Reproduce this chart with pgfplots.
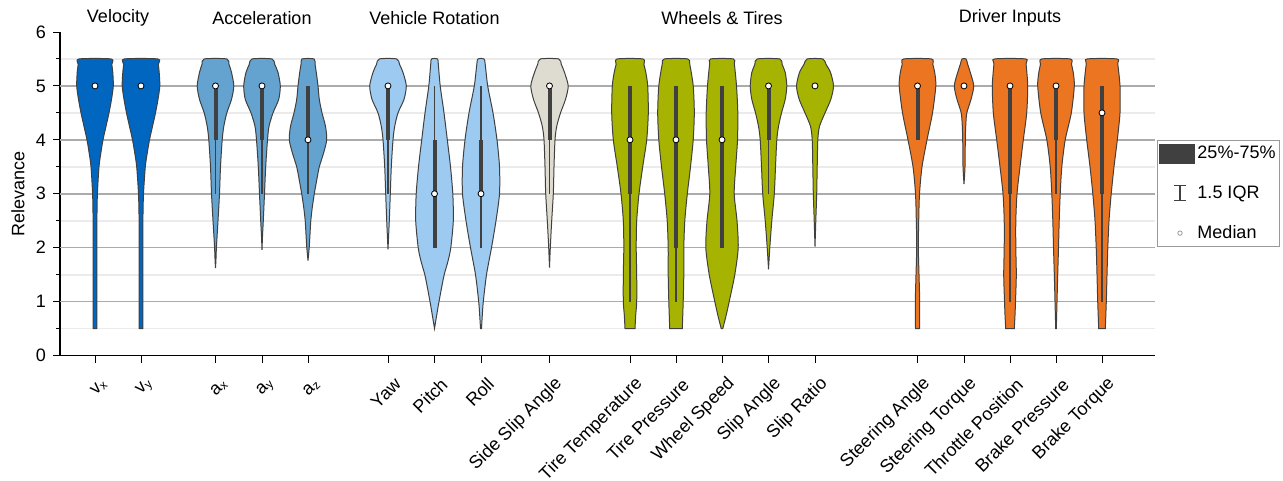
\documentclass[border=0pt]{standalone}
\usepackage{fontspec}
\setmainfont{Liberation Sans}
\usepackage{pgfplots}
\usepackage{pgfplotstable}
\pgfplotsset{compat=1.18}

\definecolor{cvel}{HTML}{0066C0}
\definecolor{cacc}{HTML}{64A3CF}
\definecolor{crot}{HTML}{9CCAF0}
\definecolor{cssa}{HTML}{DEDBD0}
\definecolor{cwhl}{HTML}{A6B300}
\definecolor{cdrv}{HTML}{EC7522}
\definecolor{outl}{HTML}{404040}
\definecolor{boxgray}{HTML}{404040}

% violin half-widths (w) along relevance (y)
\pgfplotstableread{
y w
0.5 1.8
1.0 1.8
1.5 1.8
2.0 1.8
2.5 1.9
3.0 2.4
3.5 4.0
3.75 5.8
4.0 8.0
4.25 11
4.5 14
4.75 16.5
5.0 18.3
5.25 17.8
5.4 16.8
5.5 16
}\tvx
\pgfplotstableread{
y w
0.5 1.8
1.0 1.8
1.5 1.8
2.0 1.8
2.5 1.9
3.0 2.5
3.5 4.3
3.75 6.2
4.0 8.5
4.25 11.5
4.5 14.5
4.75 17
5.0 18.8
5.25 18.2
5.4 17.3
5.5 16.7
}\tvy
\pgfplotstableread{
y w
1.62 0
1.75 0.4
2.0 0.9
2.25 1.7
2.5 2.5
3.0 4.0
3.5 5.0
4.0 6.7
4.25 8.3
4.5 11.3
4.75 16
5.0 18.3
5.25 16
5.4 13.5
5.5 11.3
}\tax
\pgfplotstableread{
y w
1.96 0
2.25 0.6
2.5 1.3
3.0 2.5
3.5 3.7
4.0 5.5
4.25 7
4.5 11
4.75 16.7
5.0 18.3
5.25 16
5.4 12.7
5.5 10
}\tay
\pgfplotstableread{
y w
1.76 0
2.0 1.2
2.25 2
2.5 2.8
2.75 4.3
3.0 6.3
3.25 8.7
3.5 11.3
3.75 15.5
4.0 18.7
4.25 17.5
4.5 14
4.75 11.3
5.0 10
5.25 8.3
5.4 7
5.5 6
}\taz
\pgfplotstableread{
y w
1.97 0
2.5 1.3
3.0 2.3
3.5 3.3
4.0 5
4.25 6.7
4.5 10
4.75 16
5.0 18.3
5.25 15
5.4 11.5
5.5 8.7
}\tyaw
\pgfplotstableread{
y w
0.5 0
0.75 2.2
1.0 4.5
1.25 7
1.5 9.7
1.75 13.5
2.0 16.3
2.5 18.8
3.0 18.3
3.5 16
4.0 12.8
4.5 9.5
5.0 5.7
5.4 3.8
5.5 3
}\tpitch
\pgfplotstableread{
y w
0.5 0.5
0.75 1.3
1.0 2.3
1.5 5.5
2.0 10.5
2.5 15
3.0 18.5
3.5 18.5
4.0 16
4.5 12
5.0 6.7
5.4 4.2
5.5 3
}\troll
\pgfplotstableread{
y w
1.63 0
2.0 0.8
2.5 2.2
3.0 3.8
3.5 4.5
4.0 5.5
4.25 7.2
4.5 11
4.75 16
5.0 18.7
5.25 15
5.4 11.8
5.5 9.2
}\tssa
\pgfplotstableread{
y w
0.5 5
0.75 5.7
1.0 6.7
1.5 6.7
2.0 6.2
2.5 6.7
3.0 9
3.5 12.7
4.0 16.7
4.5 18.3
5.0 17.7
5.25 15.8
5.4 13.9
5.5 12.7
}\tttemp
\pgfplotstableread{
y w
0.5 6.3
1.0 7.2
1.5 7.8
2.0 7.8
2.5 8.8
3.0 11.3
3.5 14.5
4.0 17.2
4.5 18.3
5.0 17.2
5.4 13.8
5.5 11.7
}\ttpress
\pgfplotstableread{
y w
0.5 0.8
0.75 4.2
1.0 7.2
1.5 12.8
2.0 16.2
2.5 15
3.0 12.2
3.5 13.7
4.0 15.5
4.5 15.8
5.0 14.5
5.4 12.4
5.5 11.3
}\twspeed
\pgfplotstableread{
y w
1.6 0
2.0 1.3
2.5 3.3
3.0 5.8
3.5 7
4.0 8.3
4.25 10
4.5 13
4.75 16.7
5.0 18.3
5.25 16.7
5.4 13.6
5.5 11.3
}\tslipang
\pgfplotstableread{
y w
2.02 0
2.5 0.8
3.0 1.7
3.5 2.2
4.0 2.8
4.25 4.5
4.5 10
4.75 15.8
5.0 18.5
5.25 15.5
5.4 11
5.5 7.8
}\tslipratio
\pgfplotstableread{
y w
0.5 2
1.0 2.2
1.5 1.5
2.0 0.8
2.5 1.2
3.0 2
3.5 4.5
4.0 9.5
4.5 15
5.0 18.3
5.25 17.2
5.4 15.3
5.5 13.8
}\tsteerang
\pgfplotstableread{
y w
3.18 0
3.5 1
4.0 1.3
4.25 1.7
4.5 2.8
4.75 7
5.0 9.7
5.25 6.3
5.4 3.7
5.5 2
}\tsteertq
\pgfplotstableread{
y w
0.5 4.3
0.75 5
1.0 5.5
1.5 6.3
2.0 5.8
2.5 5.8
3.0 7
3.5 10
4.0 13.3
4.5 16.7
5.0 17.7
5.4 16.1
5.5 15.3
}\tthrottle
\pgfplotstableread{
y w
0.5 0.3
1.0 1
1.5 1.7
2.0 2.5
2.5 3.2
3.0 4.2
3.5 5.8
4.0 9.2
4.5 15.3
5.0 18.3
5.25 17.2
5.4 15.5
5.5 14.2
}\tbrakep
\pgfplotstableread{
y w
0.5 3.3
1.0 4.3
1.5 5
2.0 5.8
2.5 7
3.0 9.2
3.5 12
4.0 15.3
4.5 18
5.0 18
5.4 15.8
5.5 14.7
}\tbraket

% medians: position, median
\pgfplotstableread{
x med
95 5
141 5
215.5 5
262 5
308 4
388 5
434.5 3
481 3
549.5 5
630 4
676 4
722 4
768.5 5
815 5
917.5 5
964 5
1010 5
1056 5
1102 4.5
}\tmed

% mirror each half-width table into a closed outline (left side up, right side down)
\newcommand\mkv[1]{%
  \pgfplotstablesort[sort key=y, sort cmp=float >]{\tmpR}{#1}%
  \pgfplotstablecreatecol[expr={-\thisrow{w}}]{s}{\tmpR}%
  \pgfplotstablecreatecol[expr={\thisrow{w}}]{s}{#1}%
  \pgfplotstablevertcat{#1}{\tmpR}%
}
\mkv{\tvx}\mkv{\tvy}\mkv{\tax}\mkv{\tay}\mkv{\taz}
\mkv{\tyaw}\mkv{\tpitch}\mkv{\troll}\mkv{\tssa}
\mkv{\tttemp}\mkv{\ttpress}\mkv{\twspeed}\mkv{\tslipang}\mkv{\tslipratio}
\mkv{\tsteerang}\mkv{\tsteertq}\mkv{\tthrottle}\mkv{\tbrakep}\mkv{\tbraket}

\newcommand\violin[3]{%
  \addplot[fill=#2, draw=outl, line width=0.5pt, smooth, tension=0.45, forget plot] table[x expr=#1-\thisrow{s}, y=y]{#3} -- cycle;
}
\newcommand\whisk[3]{\addplot[boxgray, line width=0.75pt, forget plot] coordinates {(#1,#2) (#1,#3)};}
\newcommand\iqr[3]{\addplot[boxgray, line width=2pt, forget plot] coordinates {(#1,#2) (#1,#3)};}

\begin{document}
\begin{tikzpicture}
\begin{axis}[
  at={(30pt,62.75pt)}, anchor=south west,
  scale only axis, width=547.5pt, height=161.75pt,
  xmin=60, xmax=1155, ymin=0, ymax=6,
  axis x line*=bottom, axis y line*=left,
  axis line style={line width=0.6pt, black, -},
  clip=false,
  font=\fontsize{9}{10}\selectfont,
  ytick={0,...,6},
  minor ytick={0.5,1.5,...,5.5},
  yminorgrids,
  minor grid style={color=black!8, line width=0.9pt},
  extra y ticks={1,2,3,4,5}, extra y tick labels={},
  extra y tick style={grid=major, major grid style={color=black!33, line width=0.8pt}, major tick length=0pt},
  xtick={95,141,215.5,262,308,388,434.5,481,549.5,630,676,722,768.5,815,917.5,964,1010,1056,1102},
  xticklabels={v\textsubscript{x}, v\textsubscript{y}, a\textsubscript{x}, a\textsubscript{y}, a\textsubscript{z}, Yaw, Pitch, Roll, Side Slip Angle, Tire Temperature, Tire Pressure, Wheel Speed, Slip Angle, Slip Ratio, Steering Angle, Steering Torque, Throttle Position, Brake Pressure, Brake Torque},
  tick align=outside, major tick length=3.5pt, minor tick length=2pt,
  tick style={black, line width=0.5pt},
  yticklabel style={font=\fontsize{9}{10}\selectfont},
  xticklabel style={xshift=5pt, yshift=-9.3pt, rotate=45, anchor=east, inner sep=0pt, font=\fontsize{9}{10}\selectfont},
  /pgf/number format/assume math mode=true,
  ylabel={Relevance},
  every axis y label/.style={at={(axis description cs:-0.0384,0.5)}, rotate=90, anchor=center, font=\fontsize{9}{10}\selectfont},
  legend style={at={(1.0018,0.666)}, anchor=north west, draw=black!40, line width=0.5pt,
    font=\fontsize{9}{10}\selectfont, row sep=10pt, inner xsep=1pt, inner ysep=1.5pt,
    nodes={inner sep=1pt},
    /tikz/every even column/.append style={column sep=2.5pt}},
  legend cell align=left,
]
\addlegendimage{legend image code/.code={\path[draw=none,fill=none] (0pt,0pt) -- (17.5pt,0pt); \fill[boxgray] (0pt,-4.75pt) rectangle (17.5pt,4.75pt);}}
\addlegendentry{25\%-75\%}
\addlegendimage{legend image code/.code={\path[draw=none,fill=none] (0pt,0pt) -- (17.5pt,0pt); \draw[boxgray, line width=0.6pt] (10pt,-3.75pt) -- (10pt,3.75pt) (7pt,-3.75pt) -- (13pt,-3.75pt) (7pt,3.75pt) -- (13pt,3.75pt);}}
\addlegendentry{1.5 IQR}
\addlegendimage{legend image code/.code={\path[draw=none,fill=none] (0pt,0pt) -- (17.5pt,0pt); \draw[black!40, fill=white, line width=0.4pt] (10pt,0pt) circle (1.1pt);}}
\addlegendentry{Median}

\violin{95}{cvel}{\tvx}
\violin{141}{cvel}{\tvy}
\violin{215.5}{cacc}{\tax}
\violin{262}{cacc}{\tay}
\violin{308}{cacc}{\taz}
\violin{388}{crot}{\tyaw}
\violin{434.5}{crot}{\tpitch}
\violin{481}{crot}{\troll}
\violin{549.5}{cssa}{\tssa}
\violin{630}{cwhl}{\tttemp}
\violin{676}{cwhl}{\ttpress}
\violin{722}{cwhl}{\twspeed}
\violin{768.5}{cwhl}{\tslipang}
\violin{815}{cwhl}{\tslipratio}
\violin{917.5}{cdrv}{\tsteerang}
\violin{964}{cdrv}{\tsteertq}
\violin{1010}{cdrv}{\tthrottle}
\violin{1056}{cdrv}{\tbrakep}
\violin{1102}{cdrv}{\tbraket}

% whiskers (1.5 IQR)
\whisk{215.5}{3}{5}
\whisk{262}{3}{5}
\whisk{308}{3}{5}
\whisk{388}{3}{5}
\whisk{434.5}{2}{5}
\whisk{481}{2}{5}
\whisk{549.5}{3}{5}
\whisk{630}{1}{5}
\whisk{676}{1}{5}
\whisk{722}{2}{5}
\whisk{768.5}{3}{5}
\whisk{1010}{1}{5}
\whisk{1056}{3}{5}
\whisk{1102}{1}{5}
% boxes (25%-75%)
\iqr{215.5}{4}{5}
\iqr{262}{4}{5}
\iqr{308}{4}{5}
\iqr{388}{4}{5}
\iqr{434.5}{2}{4}
\iqr{481}{3}{4}
\iqr{549.5}{4}{5}
\iqr{630}{3}{5}
\iqr{676}{2}{5}
\iqr{722}{2}{5}
\iqr{768.5}{4}{5}
\iqr{917.5}{4}{5}
\iqr{1010}{3}{5}
\iqr{1056}{4}{5}
\iqr{1102}{3}{5}
% medians
\addplot[only marks, mark=*, mark size=1.5pt, mark options={fill=white, draw=none}, forget plot] table[x=x, y=med]{\tmed};

\node[font=\fontsize{9}{10}\selectfont] at (axis cs:118,6.26) {Velocity};
\node[font=\fontsize{9}{10}\selectfont] at (axis cs:262,6.26) {Acceleration};
\node[font=\fontsize{9}{10}\selectfont] at (axis cs:434.5,6.26) {Vehicle Rotation};
\node[font=\fontsize{9}{10}\selectfont] at (axis cs:722,6.26) {Wheels \& Tires};
\node[font=\fontsize{9}{10}\selectfont] at (axis cs:1010,6.26) {Driver Inputs};
\end{axis}
\pgfresetboundingbox
\path[use as bounding box] (0,0) rectangle (641.5pt,240.5pt);
\end{tikzpicture}
\end{document}
